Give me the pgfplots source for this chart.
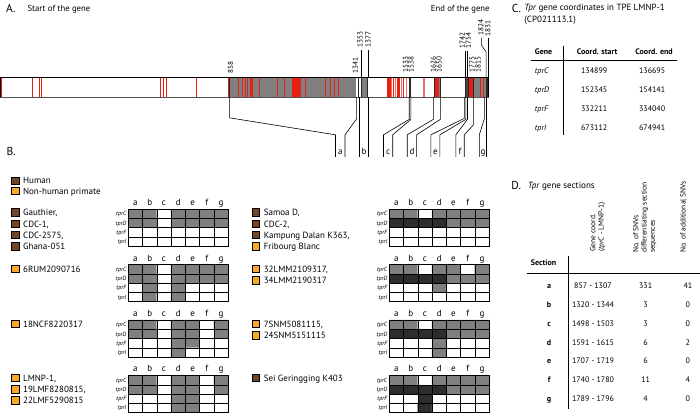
\documentclass[border=0pt]{standalone}
\usepackage{pgfplots}
\pgfplotsset{compat=1.18}
\usepackage{pgfplotstable}
\usepackage{fontspec}
\setmainfont{PT Sans}
\definecolor{bargray}{RGB}{128,128,128}
\definecolor{genered}{RGB}{232,32,18}
\definecolor{lightred}{RGB}{242,110,100}
\definecolor{brownsq}{RGB}{112,70,38}
\definecolor{orangesq}{RGB}{248,168,40}
\definecolor{darkline}{RGB}{40,40,40}
\newcommand\fs[1]{\fontsize{#1}{#1}\selectfont}
% grid tables: i = section column (a..g), j = row (tprC, tprD, tprF, tprI), v = 0 white, 1 grey, 2 dark
\pgfplotstableread[row sep=\\]{i j v\\
0 0 1\\1 0 1\\2 0 0\\3 0 1\\4 0 1\\5 0 1\\6 0 1\\
0 1 1\\1 1 1\\2 1 0\\3 1 1\\4 1 1\\5 1 1\\6 1 1\\
0 2 0\\1 2 0\\2 2 0\\3 2 0\\4 2 0\\5 2 0\\6 2 0\\
0 3 0\\1 3 0\\2 3 0\\3 3 0\\4 3 0\\5 3 0\\6 3 0\\}\gLa
\pgfplotstableread[row sep=\\]{i j v\\
0 0 1\\1 0 1\\2 0 0\\3 0 1\\4 0 1\\5 0 1\\6 0 1\\
0 1 2\\1 1 2\\2 1 2\\3 1 2\\4 1 1\\5 1 1\\6 1 1\\
0 2 0\\1 2 0\\2 2 0\\3 2 0\\4 2 0\\5 2 0\\6 2 0\\
0 3 0\\1 3 0\\2 3 0\\3 3 0\\4 3 0\\5 3 0\\6 3 0\\}\gRa
\pgfplotstableread[row sep=\\]{i j v\\
0 0 1\\1 0 1\\2 0 0\\3 0 1\\4 0 1\\5 0 1\\6 0 1\\
0 1 1\\1 1 1\\2 1 0\\3 1 1\\4 1 1\\5 1 1\\6 1 1\\
0 2 0\\1 2 1\\2 2 0\\3 2 1\\4 2 0\\5 2 0\\6 2 0\\
0 3 0\\1 3 1\\2 3 0\\3 3 1\\4 3 0\\5 3 0\\6 3 0\\}\gLb
\pgfplotstableread[row sep=\\]{i j v\\
0 0 1\\1 0 1\\2 0 0\\3 0 1\\4 0 1\\5 0 0\\6 0 1\\
0 1 2\\1 1 2\\2 1 2\\3 1 2\\4 1 1\\5 1 1\\6 1 1\\
0 2 0\\1 2 0\\2 2 0\\3 2 1\\4 2 0\\5 2 0\\6 2 0\\
0 3 0\\1 3 0\\2 3 0\\3 3 0\\4 3 0\\5 3 0\\6 3 0\\}\gRb
\pgfplotstableread[row sep=\\]{i j v\\
0 0 1\\1 0 1\\2 0 0\\3 0 1\\4 0 1\\5 0 0\\6 0 1\\
0 1 1\\1 1 1\\2 1 0\\3 1 1\\4 1 1\\5 1 0\\6 1 1\\
0 2 0\\1 2 0\\2 2 0\\3 2 1\\4 2 1\\5 2 0\\6 2 0\\
0 3 0\\1 3 0\\2 3 0\\3 3 1\\4 3 0\\5 3 0\\6 3 0\\}\gLc
\pgfplotstableread[row sep=\\]{i j v\\
0 0 1\\1 0 1\\2 0 0\\3 0 1\\4 0 1\\5 0 1\\6 0 1\\
0 1 2\\1 1 2\\2 1 2\\3 1 2\\4 1 1\\5 1 1\\6 1 1\\
0 2 0\\1 2 0\\2 2 0\\3 2 1\\4 2 0\\5 2 0\\6 2 0\\
0 3 0\\1 3 0\\2 3 0\\3 3 1\\4 3 0\\5 3 0\\6 3 0\\}\gRc
\pgfplotstableread[row sep=\\]{i j v\\
0 0 1\\1 0 1\\2 0 0\\3 0 1\\4 0 1\\5 0 0\\6 0 1\\
0 1 1\\1 1 1\\2 1 0\\3 1 1\\4 1 1\\5 1 0\\6 1 1\\
0 2 0\\1 2 0\\2 2 0\\3 2 1\\4 2 1\\5 2 0\\6 2 0\\
0 3 0\\1 3 0\\2 3 0\\3 3 1\\4 3 1\\5 3 0\\6 3 0\\}\gLd
\pgfplotstableread[row sep=\\]{i j v\\
0 0 1\\1 0 1\\2 0 0\\3 0 1\\4 0 1\\5 0 1\\6 0 1\\
0 1 2\\1 1 2\\2 1 2\\3 1 2\\4 1 1\\5 1 1\\6 1 1\\
0 2 0\\1 2 0\\2 2 2\\3 2 0\\4 2 0\\5 2 0\\6 2 0\\
0 3 0\\1 3 0\\2 3 2\\3 3 0\\4 3 0\\5 3 0\\6 3 0\\}\gRd
\newcommand{\gridplot}[3]{%
\addplot[matrix plot*, mesh/cols=7, point meta=explicit]
 table[x expr={#1+14.3*(\thisrow{i}+0.5)}, y expr={#2+9.25*(\thisrow{j}+0.5)}, meta=v] {#3};}
\newcommand{\gridlines}[2]{%
 \foreach \k in {1,...,6} \draw[line width=0.5pt] (#1+\k*14.3,#2) -- (#1+\k*14.3,#2+37);
 \foreach \k in {1,...,3} \draw[line width=0.5pt] (#1,#2+\k*9.25) -- (#1+100.1,#2+\k*9.25);
 \draw[line width=0.8pt] (#1,#2) rectangle (#1+100.1,#2+37);
 \foreach \l [count=\k from 0] in {a,b,c,d,e,f,g}
   \node[anchor=base, inner sep=0pt, font=\fs{9}] at (#1+14.3*\k+7.15,#2-3.6) {\l};
 \foreach \l [count=\k from 0] in {tprC,tprD,tprF,tprI}
   \node[anchor=base east, inner sep=0pt, font=\fs{6}\itshape] at (#1-1.8,#2+9.25*\k+6.7) {\l};}
\newcommand{\lab}[4]{% x, ycenter, colour, text
 \draw[fill=#3, line width=0.5pt] (#1,#2-3.7) rectangle (#1+7.4,#2+3.7);
 \node[anchor=base west, inner sep=0pt, font=\fs{9}] at (#1+11.5,#2+3.4) {#4};}
\begin{document}
\begin{tikzpicture}
\begin{axis}[at={(0pt,0pt)}, anchor=south west, width=700pt, height=413pt, scale only axis,
  xmin=0, xmax=700, ymin=0, ymax=413, y dir=reverse, hide axis, clip=false,
  colormap={tpr}{rgb255(0cm)=(255,255,255) rgb255(1cm)=(128,128,128) rgb255(2cm)=(45,45,45)},
  point meta min=0, point meta max=2]
% ---- gene bar (pixel positions; 1831 bp = 489 px) ----
\addplot[fill=white, draw=none] coordinates {(0,77.5) (489,77.5) (489,97.2) (0,97.2)} --cycle;
\addplot[fill=bargray, draw=none] coordinates {(229.5,77.5) (356.5,77.5) (356.5,97.2) (229.5,97.2)} --cycle;
\addplot[fill=bargray, draw=none] coordinates {(361.5,77.5) (367.8,77.5) (367.8,97.2) (361.5,97.2)} --cycle;
\addplot[fill=bargray, draw=none] coordinates {(434.3,77.5) (440.7,77.5) (440.7,97.2) (434.3,97.2)} --cycle;
\addplot[fill=darkline!85, draw=none] coordinates {(465,77.5) (469,77.5) (469,97.2) (465,97.2)} --cycle;
\addplot[fill=bargray, draw=none] coordinates {(473.5,77.5) (489,77.5) (489,97.2) (473.5,97.2)} --cycle;
\addplot[fill=darkline, draw=none] coordinates {(485.8,77.5) (489,77.5) (489,97.2) (485.8,97.2)} --cycle;
% thick red blocks
\addplot[fill=genered, draw=none] coordinates {(250.3,77.5) (252.8,77.5) (252.8,97.2) (250.3,97.2)} --cycle;
\addplot[fill=genered, draw=none] coordinates {(292,77.5) (301,77.5) (301,97.2) (292,97.2)} --cycle;
\addplot[fill=genered, draw=none] coordinates {(387.3,77.5) (390.7,77.5) (390.7,97.2) (387.3,97.2)} --cycle;
\addplot[fill=genered, draw=none] coordinates {(397.3,77.5) (400,77.5) (400,97.2) (397.3,97.2)} --cycle;
\addplot[fill=lightred, draw=none] coordinates {(423,77.5) (425.5,77.5) (425.5,97.2) (423,97.2)} --cycle;
\addplot[fill=genered, draw=none] coordinates {(435.6,77.5) (439,77.5) (439,97.2) (435.6,97.2)} --cycle;
\addplot[fill=genered, draw=none] coordinates {(469.6,77.5) (473,77.5) (473,97.2) (469.6,97.2)} --cycle;
% thin red lines
\addplot[only marks, mark=|, mark size=9.85pt, color=genered, mark options={line width=1pt}] coordinates {
 (1.3,87.35) (31.7,87.35) (39.2,87.35) (41.2,87.35) (160.3,87.35) (163.3,87.35) (166.3,87.35) (196.2,87.35) (228,87.35)
 (238.3,87.35) (242.5,87.35) (245.2,87.35) (247.5,87.35) (259.3,87.35) (277.7,87.35) (284,87.35) (305.3,87.35)
 (325,87.35) (330.5,87.35) (334.3,87.35) (338.5,87.35) (393.8,87.35) (403.3,87.35) (481,87.35) (483.5,87.35)};
\addplot[only marks, mark=|, mark size=9.85pt, color=lightred, mark options={line width=1pt}] coordinates {
 (391.8,87.35) (395.5,87.35) (401.5,87.35) (406.7,87.35)};
% dark boundary lines
\addplot[only marks, mark=|, mark size=9.85pt, color=darkline, mark options={line width=1pt}] coordinates {
 (229.5,87.35) (358.2,87.35) (361.5,87.35) (367.8,87.35) (409.8,87.35) (411,87.35) (434.3,87.35) (440.7,87.35)
 (465.3,87.35) (468.5,87.35) (474,87.35) (487.5,87.35)};
% ---- panel B grids ----
\gridplot{128}{209.5}{\gLa}
\gridplot{389.3}{209.5}{\gRa}
\gridplot{128}{265}{\gLb}
\gridplot{389.3}{265}{\gRb}
\gridplot{128}{320.5}{\gLc}
\gridplot{389.3}{320.5}{\gRc}
\gridplot{128}{376}{\gLd}
\gridplot{389.3}{376}{\gRd}
\end{axis}
\begin{scope}[x=1pt, y=-1pt, shift={(0pt,413pt)}]
\path (0,0) rectangle (700,413);
% bar outline
\draw[line width=0.9pt, black] (0,77.5) -- (489,77.5);
\draw[line width=0.9pt, darkline!80] (0,97.2) -- (489,97.2);
\draw[line width=0.8pt] (0.4,77.5) -- (0.4,97.2);
\draw[line width=0.8pt] (488.8,77.5) -- (488.8,97.2);
% panel A texts
\node[anchor=base west, inner sep=0pt, font=\fs{11.5}] at (5.5,12.3) {A.};
\node[anchor=base west, inner sep=0pt, font=\fs{8.7}] at (27,12) {Start of the gene};
\node[anchor=base east, inner sep=0pt, font=\fs{8.7}] at (490,11.3) {End of the gene};
% coordinates
\begin{scope}[every node/.style={rotate=90, anchor=west, inner sep=0pt, font=\fs{7.3}}]
\node at (230.5,73.5) {858};
\node at (355.2,73.5) {1341};
\node at (360.2,47.5) {1353};
\node at (368,47.5) {1377};
\node at (405.6,72.5) {1533};
\node at (411.2,72.5) {1538};
\node at (433.3,72.5) {1626};
\node at (439.3,72.5) {1650};
\node at (462.5,48.5) {1742};
\node at (468.5,48.5) {1754};
\node at (472.3,73) {1775};
\node at (478.3,73) {1815};
\node at (481,36) {1824};
\node at (488,36.5) {1831};
\end{scope}
\draw[line width=0.5pt] (361.4,50.5) -- (361.4,77);
\draw[line width=0.5pt] (367.8,50.5) -- (367.8,77);
\draw[line width=0.5pt] (465.3,51) -- (465.3,77);
\draw[line width=0.5pt] (467.6,51) -- (467.6,77);
\draw[line width=0.5pt] (481.5,38) -- (481.5,45) -- (486.3,52) -- (486.3,77);
\draw[line width=0.5pt] (488.7,38) -- (488.7,77);
% connectors to sections
\begin{scope}[line width=0.6pt]
\draw (229.5,97) -- (229.5,118) -- (335.5,135) -- (335.5,157);
\draw (356.6,97) -- (356.6,119) -- (345,135) -- (345,157);
\draw (359.6,97) -- (359.6,157);
\draw (368.2,97) -- (368.2,157);
\draw (409.3,97) -- (409.3,119.5) -- (383.5,135) -- (383.5,157);
\draw (411,97) -- (411,119.5) -- (392.8,135) -- (392.8,157);
\draw (433.5,97) -- (433.5,119.5) -- (407.3,135) -- (407.3,157);
\draw (440.5,97) -- (440.5,119.5) -- (416.7,135) -- (416.7,157);
\draw (464.5,97) -- (464.5,118.5) -- (431,135) -- (431,157);
\draw (466,97) -- (466,119.5) -- (440,135) -- (440,157);
\draw (467.6,97) -- (467.6,119.5) -- (456,135) -- (456,157);
\draw (473.6,97) -- (473.6,125) -- (464.4,135) -- (464.4,157);
\draw (484.6,97) -- (484.6,118.5) -- (479.5,135) -- (479.5,157);
\draw (486.7,97) -- (486.7,157);
\end{scope}
\foreach \l/\x in {a/340.3,b/364,c/388.2,d/412,e/435.6,f/460.2,g/483.1}
  \node[anchor=base, inner sep=0pt, font=\fs{9}] at (\x,154.3) {\l};
% panel B
\node[anchor=base west, inner sep=0pt, font=\fs{11.5}] at (6,156) {B.};
\lab{11}{180.7}{brownsq}{Human}
\lab{11}{191}{orangesq}{Non-human primate}
\lab{11}{212.7}{brownsq}{Gauthier,}
\lab{11}{224}{brownsq}{CDC-1,}
\lab{11}{235.3}{brownsq}{CDC-2575,}
\lab{11}{246.6}{brownsq}{Ghana-051}
\lab{252}{212.7}{brownsq}{Samoa D,}
\lab{252}{224}{brownsq}{CDC-2,}
\lab{252}{235.3}{brownsq}{Kampung Dalan K363,}
\lab{252}{246.6}{orangesq}{Fribourg Blanc}
\lab{11}{269.3}{orangesq}{6RUM2090716}
\lab{252}{269.3}{orangesq}{32LMM2109317,}
\lab{252}{280.6}{orangesq}{34LMM2190317}
\lab{11}{324.3}{orangesq}{18NCF8220317}
\lab{252}{324.3}{orangesq}{7SNM5081115,}
\lab{252}{335.6}{orangesq}{24SNM5151115}
\lab{11}{378.3}{orangesq}{LMNP-1,}
\lab{11}{389.6}{orangesq}{19LMF8280815,}
\lab{11}{400.9}{orangesq}{22LMF5290815}
\lab{252}{378.3}{brownsq}{Sei Geringging K403}
\gridlines{128}{209.5}
\gridlines{389.3}{209.5}
\gridlines{128}{265}
\gridlines{389.3}{265}
\gridlines{128}{320.5}
\gridlines{389.3}{320.5}
\gridlines{128}{376}
\gridlines{389.3}{376}
% panel C
\node[anchor=base west, inner sep=0pt, font=\fs{11.5}] at (512,12.3) {C.};
\node[anchor=base west, inner sep=0pt, font=\fs{9}] at (524.5,11) {\textit{Tpr} gene coordinates in TPE LMNP-1};
\node[anchor=base west, inner sep=0pt, font=\fs{9}] at (524.5,22.5) {(CP021113.1)};
\node[anchor=base west, inner sep=0pt, font=\fs{8}\bfseries] at (535,54.3) {Gene};
\node[anchor=base, inner sep=0pt, font=\fs{8}\bfseries] at (597.5,54.3) {Coord. start};
\node[anchor=base, inner sep=0pt, font=\fs{8}\bfseries] at (654.5,54.3) {Coord. end};
\draw[line width=0.9pt] (531.7,61) -- (677,61);
\draw[line width=0.7pt] (563.3,46) -- (563.3,135);
\foreach \g/\s/\e/\y in {tprC/134899/136695/73.5, tprD/152345/154141/92.3, tprF/332211/334040/111.2, tprI/673112/674941/130.2}{
  \node[anchor=base west, inner sep=0pt, font=\fs{8}\itshape] at (535,\y) {\g};
  \node[anchor=base, inner sep=0pt, font=\fs{8}] at (594.5,\y) {\s};
  \node[anchor=base, inner sep=0pt, font=\fs{8}] at (652.5,\y) {\e};}
% panel D
\node[anchor=base west, inner sep=0pt, font=\fs{11.5}] at (511.5,190) {D.};
\node[anchor=base west, inner sep=0pt, font=\fs{9}] at (528,188.8) {\textit{Tpr} gene sections};
\node[anchor=base west, inner sep=0pt, font=\fs{8}\bfseries] at (531,265.7) {Section};
\node[rotate=90, anchor=west, inner sep=0pt, align=left, font=\fontsize{7.5}{8.3}\selectfont] at (598,252.5) {Gene coord.\\(\textit{tprC} - LMNP-1)};
\node[rotate=90, anchor=west, inner sep=0pt, align=left, font=\fontsize{7.5}{8.3}\selectfont] at (645,253.5) {No. of SNVs\\differentiating section\\sequences};
\node[rotate=90, anchor=west, inner sep=0pt, align=left, font=\fontsize{7.5}{8.3}\selectfont] at (683.3,253.5) {No. of additional SNVs};
\draw[line width=0.9pt] (527,273.3) -- (700,273.3);
\draw[line width=0.7pt] (568.3,256.7) -- (568.3,410);
\foreach \l/\c/\n/\m/\y in {a/857 - 1307/331/41/289, b/1320 - 1344/3/0/308, c/1498 - 1503/3/0/326.8, d/1591 - 1615/6/2/345.6, e/1707 - 1719/6/0/364.4, f/1740 - 1780/11/4/383.2, g/1789 - 1796/4/0/402}{
  \node[anchor=base, inner sep=0pt, font=\fs{8}\bfseries] at (549.3,\y) {\l};
  \node[anchor=base, inner sep=0pt, font=\fs{8}] at (593.3,\y) {\c};
  \node[anchor=base, inner sep=0pt, font=\fs{8}] at (646,\y) {\n};
  \node[anchor=base, inner sep=0pt, font=\fs{8}] at (688.3,\y) {\m};}
\end{scope}
\end{tikzpicture}
\end{document}
